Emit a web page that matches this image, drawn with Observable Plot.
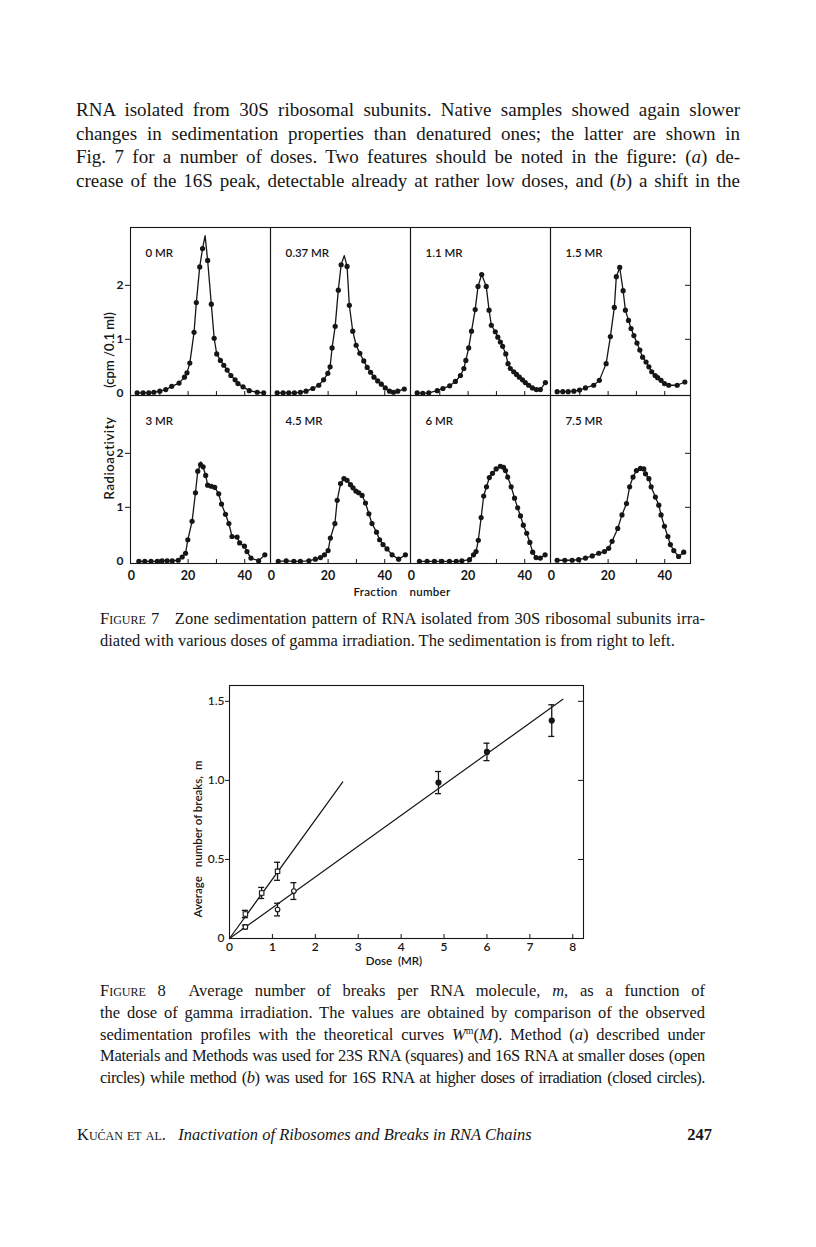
<!DOCTYPE html>
<html><head><meta charset="utf-8">
<script src="https://cdn.jsdelivr.net/npm/d3@7"></script>
<script src="https://cdn.jsdelivr.net/npm/@observablehq/plot@0.6"></script>
<style>
html,body{margin:0;padding:0;background:#fff;}
#page{position:relative;width:816px;height:1247px;overflow:hidden;background:#fff;color:#161616;}
.ln{position:absolute;font-family:"Liberation Serif","Times New Roman",serif;color:#161616;}
.fig{position:absolute;font-family:Lato,"Open Sans",sans-serif;color:#161616;white-space:pre;}
.sc{font-variant:small-caps;}
</style></head>
<body><div id="page"></div>
<script>
// ================= Figure 7 data (fraction number, radioactivity cpm/0.1 ml) =================
const doseLabels = ["0 MR", "0.37 MR", "1.1 MR", "1.5 MR", "3 MR", "4.5 MR", "6 MR", "7.5 MR"];
const profile_0MR = [[2,0.01],[4.1,0.01],[6.1,0.01],[7.9,0.02],[10,0.04],[12.1,0.07],[14.2,0.13],[16.8,0.19],[18.7,0.30],[19.6,0.38],[20.6,0.56],[22.1,1.13],[22.9,1.68],[24.1,2.34],[25.1,2.68],[26.9,2.46],[28.2,1.65],[29.2,1.02],[30.1,0.73],[31.4,0.61],[32.6,0.52],[33.8,0.43],[35.1,0.33],[36.6,0.25],[37.6,0.18],[39.4,0.12],[41.6,0.05],[44.4,0.02],[46.7,0.01]];
const profile_037MR = [[2,0.01],[4.1,0.01],[6.1,0.01],[8.1,0.01],[10.2,0.02],[12.2,0.04],[14.6,0.09],[16.7,0.15],[18.4,0.25],[19.9,0.37],[20.7,0.49],[21.4,0.84],[22.5,1.24],[23.6,1.91],[24.6,2.38],[26.7,2.35],[27.5,1.63],[28.7,1.15],[29.9,0.89],[31.2,0.74],[32.6,0.60],[33.8,0.48],[35,0.39],[36.2,0.30],[37.5,0.23],[38.8,0.17],[40.2,0.10],[41.7,0.04],[43.1,0.02],[44.6,0.04],[46.9,0.08]];
const profile_11MR = [[2,0.01],[4,0.0],[6.1,0.01],[9.1,0.05],[11.1,0.09],[13.5,0.14],[15.5,0.22],[17.3,0.33],[18.5,0.46],[19.2,0.61],[20.2,0.84],[21.2,1.15],[22.5,1.55],[23.5,1.98],[24.8,2.2],[26.4,1.98],[27.4,1.54],[28.2,1.26],[29.6,1.14],[30.5,1.04],[31.4,0.95],[32.2,0.87],[33.3,0.73],[34.1,0.55],[34.9,0.46],[36.1,0.40],[37.1,0.35],[38.1,0.30],[39.2,0.25],[40.2,0.20],[41.4,0.15],[42.7,0.10],[44.1,0.07],[45.5,0.07],[47.3,0.2]];
const profile_15MR = [[2,0.03],[4,0.03],[5.9,0.03],[7.9,0.04],[9.9,0.06],[12,0.1],[14.9,0.15],[16.9,0.24],[19.3,0.55],[20.8,1.05],[22.2,1.59],[22.9,2.16],[24.1,2.33],[25.3,1.9],[26.1,1.54],[27.2,1.35],[28.1,1.20],[29.1,1.07],[30.2,0.93],[31.2,0.80],[32.2,0.67],[33.4,0.58],[34.4,0.49],[35.4,0.40],[36.6,0.33],[37.5,0.29],[38.7,0.24],[39.9,0.18],[41.4,0.15],[44.4,0.15],[47.1,0.21]];
const profile_3MR = [[2.6,0],[4.7,0],[6.9,0],[9.1,0],[10.8,0.01],[12.6,0.01],[14.4,0.01],[16.5,0.02],[17.9,0.08],[19.1,0.15],[19.9,0.40],[21.4,0.74],[22.6,1.27],[23.4,1.67],[24.4,1.79],[25.3,1.75],[26.2,1.59],[26.9,1.41],[28.2,1.39],[29.4,1.37],[30.8,1.25],[31.8,1.06],[33.2,0.87],[34.4,0.70],[35.5,0.46],[37.3,0.45],[38.2,0.34],[39.9,0.28],[40.8,0.18],[42.2,0.06],[44.9,0.01],[47.1,0.12]];
const profile_45MR = [[2.4,0],[5.2,0.01],[7.9,0],[10.2,0],[13.2,0.01],[15.5,0.04],[17.3,0.07],[18.7,0.12],[20,0.2],[20.8,0.43],[22.4,0.70],[23.2,1.13],[24.4,1.44],[25.6,1.53],[26.7,1.50],[27.9,1.42],[28.8,1.36],[29.8,1.30],[30.8,1.27],[32,1.22],[33.2,1.08],[34.4,0.88],[35.5,0.70],[37.1,0.54],[38.2,0.40],[39.4,0.31],[40.8,0.23],[42.6,0.12],[44.9,0.04],[47.3,0.12]];
const profile_6MR = [[2.8,0],[5.5,0],[8.1,0],[10.7,0],[13.4,0],[15.8,0],[17.8,0.01],[20.5,0.03],[21.9,0.12],[22.8,0.18],[23.6,0.39],[24.6,0.81],[25.5,1.21],[26.5,1.38],[27.5,1.55],[28.6,1.63],[29.9,1.71],[31.4,1.76],[32.5,1.74],[33.2,1.68],[34,1.56],[35.2,1.38],[36.4,1.17],[37.5,0.99],[38.5,0.84],[39.5,0.67],[40.7,0.52],[41.8,0.35],[42.8,0.17],[44,0.07],[45.5,0.06],[47.2,0.12]];
const profile_75MR = [[2,0.02],[4.7,0.02],[7.3,0.02],[9.6,0.03],[12,0.06],[14.4,0.10],[16.7,0.15],[18.7,0.18],[20.2,0.24],[21.4,0.37],[23.4,0.61],[24.9,0.86],[26.5,1.07],[27.6,1.38],[28.8,1.56],[30,1.68],[31.4,1.72],[32.6,1.71],[33.2,1.62],[34.4,1.53],[35.2,1.38],[36.7,1.19],[37.9,1.04],[38.7,0.86],[39.9,0.65],[41.1,0.46],[42,0.31],[43.2,0.20],[44.9,0.09],[46.7,0.17]];
const profiles = [profile_0MR, profile_037MR, profile_11MR, profile_15MR, profile_3MR, profile_45MR, profile_6MR, profile_75MR];
// apex of the hand-drawn curve where it rises above the measured points
const lineApex = [[26.0, 2.92], [25.7, 2.55], null, null, [24.5, 1.84], null, null, null];
const fractionTicks = [10, 20, 30, 40];
const fractionTickLabels = [0, 20, 40];
const cpmTickLabels = [0, 1, 2];
const cpmTicks = [1, 2];

// ================= Figure 8 data (dose MR, average number of breaks m) =================
const dose23S = [0.37, 0.75, 1.12];
const breaks23S = [0.155, 0.288, 0.425];
const err23S = [0.023, 0.035, 0.057];
const doseOpen16S = [0.37, 1.12, 1.5];
const breaksOpen16S = [0.073, 0.183, 0.30];
const errOpen16S = [0.012, 0.04, 0.053];
const doseClosed16S = [4.87, 6.0, 7.51];
const breaksClosed16S = [0.986, 1.18, 1.378];
const errClosed16S = [0.07, 0.055, 0.10];
const fitLine23S = [[0, 0], [2.64, 0.99]];
const fitLine16S = [[0, 0], [7.77, 1.513]];
const doseTicks = [0, 1, 2, 3, 4, 5, 6, 7, 8];
const breaksTicks = [0, 0.5, 1.0, 1.5];

// ================= page helpers =================
const page = document.getElementById("page");
const FONT = "Lato, 'Open Sans', sans-serif";
const INK = "#161616";

function addLine(html, left, cy, width, size, justify = true, extra = "") {
  const d = document.createElement("div");
  d.className = "ln";
  d.style.cssText = `left:${left}px;top:${(cy - 0.71 * size).toFixed(1)}px;width:${width}px;font-size:${size}px;line-height:${(1.2 * size).toFixed(1)}px;` +
    (justify ? "text-align:justify;text-align-last:justify;" : "text-align:left;") + extra;
  d.innerHTML = html;
  page.appendChild(d);
}
function addFigText(html, cx, cy, size, rotate = false, extra = "") {
  const d = document.createElement("div");
  d.className = "fig";
  d.style.cssText = `left:${cx}px;top:${cy}px;font-size:${size}px;line-height:1;transform:translate(-50%,-50%)${rotate ? " rotate(-90deg)" : ""};` + extra;
  d.innerHTML = html;
  page.appendChild(d);
}
function placeSvg(svg, left, top) {
  svg.style.position = "absolute";
  svg.style.left = left + "px";
  svg.style.top = top + "px";
  page.appendChild(svg);
}

// ================= body text =================
const paraLines = [
  "RNA isolated from 30S ribosomal subunits. Native samples showed again slower",
  "changes in sedimentation properties than denatured ones; the latter are shown in",
  "Fig. 7 for a number of doses. Two features should be noted in the figure: (<i>a</i>) de-",
  "crease of the 16S peak, detectable already at rather low doses, and (<i>b</i>) a shift in the"
];
[112.5, 136, 159.5, 183].forEach((cy, k) => addLine(paraLines[k], 76, cy, 664, 19));

// ================= Figure 7 =================
const F7 = {left: 130, top: 227, pw: 140, ph: 168};
const xDom7 = [-0.35, 49.1], yDom7 = [-0.04, 3.07];
function sedPanel(i) {
  const col = i % 4, row = Math.floor(i / 4);
  const M = {l: 30, r: 10, t: 4, b: 28};
  const kx = (xDom7[1] - xDom7[0]) / F7.pw, ky = (yDom7[1] - yDom7[0]) / F7.ph;
  const pts = profiles[i].map(([f, v]) => ({f, v}));
  const curve = lineApex[i] ? pts.concat([{f: lineApex[i][0], v: lineApex[i][1]}]).sort((a, b) => a.f - b.f) : pts;
  const marks = [
    Plot.ruleX(fractionTicks, {x: d => d, y1: yDom7[0], y2: yDom7[0] + 4 * ky, stroke: INK, strokeWidth: 1}),
    Plot.line(curve, {x: "f", y: "v", stroke: INK, strokeWidth: 1.3}),
    Plot.dot(pts, {x: "f", y: "v", r: 2.6, fill: INK, stroke: "none"}),
    Plot.text([doseLabels[i]], {frameAnchor: "top-left", text: d => d, dx: 15, dy: 26, textAnchor: "start", lineAnchor: "middle", fontSize: 11.5, fontWeight: 600, fill: INK}),
    Plot.frame({stroke: INK, strokeWidth: 1.1})
  ];
  if (col === 0) {
    marks.push(Plot.ruleY(cpmTicks, {y: d => d, x1: xDom7[0] - 5 * kx, x2: xDom7[0], stroke: INK}));
    marks.push(Plot.text(cpmTickLabels, {x: xDom7[0], y: d => d, dx: -7, text: d => String(d), textAnchor: "end", lineAnchor: "middle", fontSize: 12, fontWeight: 700, fill: INK}));
  }
  if (col === 3) {
    marks.push(Plot.ruleY(cpmTicks, {y: d => d, x1: xDom7[1] - 5 * kx, x2: xDom7[1], stroke: INK}));
  }
  if (row === 1) {
    marks.push(Plot.text(fractionTickLabels, {x: d => d, y: yDom7[0], dy: 12.5, text: d => String(d), lineAnchor: "middle", fontSize: 12.5, fontWeight: 700, fill: INK}));
  }
  const svg = Plot.plot({
    width: F7.pw + M.l + M.r, height: F7.ph + M.t + M.b,
    marginLeft: M.l, marginRight: M.r, marginTop: M.t, marginBottom: M.b,
    x: {domain: xDom7, axis: null}, y: {domain: yDom7, axis: null},
    style: {background: "transparent", fontFamily: FONT, overflow: "visible"},
    marks
  });
  placeSvg(svg, F7.left + col * F7.pw - M.l, F7.top + row * F7.ph - M.t);
}
for (let i = 0; i < 8; i++) sedPanel(i);
addFigText('(cpm /0.1 ml)', 109, 350, 13, true, "font-weight:600;");
addFigText('Radioactivity', 109, 458, 13, true, "font-weight:600;letter-spacing:0.6px;");
addFigText('<span>Fraction</span><span style="margin-left:12px">number</span>', 402, 592, 11.5, false, "font-weight:600;letter-spacing:0.3px;");

addLine('<span class="sc">Figure 7</span>&nbsp;&nbsp; Zone sedimentation pattern of RNA isolated from 30S ribosomal subunits irra-', 100, 621, 605, 16.5);
addLine('diated with various doses of gamma irradiation. The sedimentation is from right to left.', 100, 643, 605, 16.5, false);

// ================= Figure 8 =================
const F8 = {left: 229, top: 685, w: 354, h: 253};
const xDom8 = [0, 8.25], yDom8 = [0, 1.60];
(function fig8() {
  const M = {l: 48, r: 14, t: 8, b: 36};
  const kx = (xDom8[1] - xDom8[0]) / F8.w, ky = (yDom8[1] - yDom8[0]) / F8.h;
  const cap = 3 * kx;
  const sq = dose23S.map((x, k) => ({x, y: breaks23S[k], e: err23S[k]}));
  const oc = doseOpen16S.map((x, k) => ({x, y: breaksOpen16S[k], e: errOpen16S[k]}));
  const cc = doseClosed16S.map((x, k) => ({x, y: breaksClosed16S[k], e: errClosed16S[k]}));
  const all = sq.concat(oc, cc);
  const svg = Plot.plot({
    width: F8.w + M.l + M.r, height: F8.h + M.t + M.b,
    marginLeft: M.l, marginRight: M.r, marginTop: M.t, marginBottom: M.b,
    x: {domain: xDom8, axis: null}, y: {domain: yDom8, axis: null},
    style: {background: "transparent", fontFamily: FONT, overflow: "visible"},
    marks: [
      Plot.line(fitLine23S, {x: d => d[0], y: d => d[1], stroke: INK, strokeWidth: 1.2}),
      Plot.line(fitLine16S, {x: d => d[0], y: d => d[1], stroke: INK, strokeWidth: 1.2}),
      Plot.ruleX(all, {x: "x", y1: d => d.y - d.e, y2: d => d.y + d.e, stroke: INK, strokeWidth: 1.3}),
      Plot.ruleY(all, {y: d => d.y + d.e, x1: d => d.x - cap, x2: d => d.x + cap, stroke: INK, strokeWidth: 1.3}),
      Plot.ruleY(all, {y: d => d.y - d.e, x1: d => d.x - cap, x2: d => d.x + cap, stroke: INK, strokeWidth: 1.3}),
      Plot.dot(sq, {x: "x", y: "y", symbol: "square", r: 2.5, fill: "white", stroke: INK, strokeWidth: 1.1}),
      Plot.dot(oc, {x: "x", y: "y", r: 2.3, fill: "white", stroke: INK, strokeWidth: 1.1}),
      Plot.dot(cc, {x: "x", y: "y", r: 3.1, fill: INK, stroke: "none"}),
      Plot.ruleX(doseTicks.slice(1), {x: d => d, y1: 0, y2: 4 * ky, stroke: INK}),
      Plot.ruleY(breaksTicks.slice(1), {y: d => d, x1: -4 * kx, x2: 0, stroke: INK}),
      Plot.ruleY(breaksTicks.slice(1), {y: d => d, x1: xDom8[1] - 5 * kx, x2: xDom8[1], stroke: INK}),
      Plot.text(doseTicks, {x: d => d, y: 0, dy: 9, text: d => String(d), lineAnchor: "middle", fontSize: 12, fontWeight: 600, fill: INK}),
      Plot.text(breaksTicks, {x: 0, y: d => d, dx: -5, text: d => d === 0 ? "0" : d.toFixed(1), textAnchor: "end", lineAnchor: "middle", fontSize: 12, fontWeight: 500, fill: INK}),
      Plot.frame({stroke: INK, strokeWidth: 1.1})
    ]
  });
  placeSvg(svg, F8.left - M.l, F8.top - M.t);
})();
addFigText('<span>Average</span><span style="margin-left:9px">number of breaks,</span><span style="margin-left:6px">m</span>', 198, 839, 11.5, true, "font-weight:600;");
addFigText('Dose  (MR)', 394, 961, 11.5, false, "font-weight:600;");

const f8Lines = [
  '<span class="sc">Figure 8</span>&nbsp; Average number of breaks per RNA molecule, <i>m</i>, as a function of',
  'the dose of gamma irradiation. The values are obtained by comparison of the observed',
  'sedimentation profiles with the theoretical curves <i>W</i><sup style="font-size:0.6em;line-height:0">m</sup>(<i>M</i>). Method (<i>a</i>) described under',
  'Materials and Methods was used for 23S RNA (squares) and 16S RNA at smaller doses (open',
  'circles) while method (<i>b</i>) was used for 16S RNA at higher doses of irradiation (closed circles).'
];
const f8Extra = ["", "", "", "letter-spacing:-0.25px;word-spacing:-1px;", "letter-spacing:-0.5px;word-spacing:-2.5px;"];
[993, 1015, 1036.5, 1058, 1080].forEach((cy, k) => addLine(f8Lines[k], 100, cy, 605, 16.5, true, f8Extra[k]));

// ================= footer =================
addLine('<span class="sc">Kućan et al.</span>&nbsp;&nbsp; <i>Inactivation of Ribosomes and Breaks in RNA Chains</i>', 77, 1137, 620, 16.5, false);
addLine('<b>247</b>', 612, 1137, 100, 16.5, false, "text-align:right;");
</script></body></html>
